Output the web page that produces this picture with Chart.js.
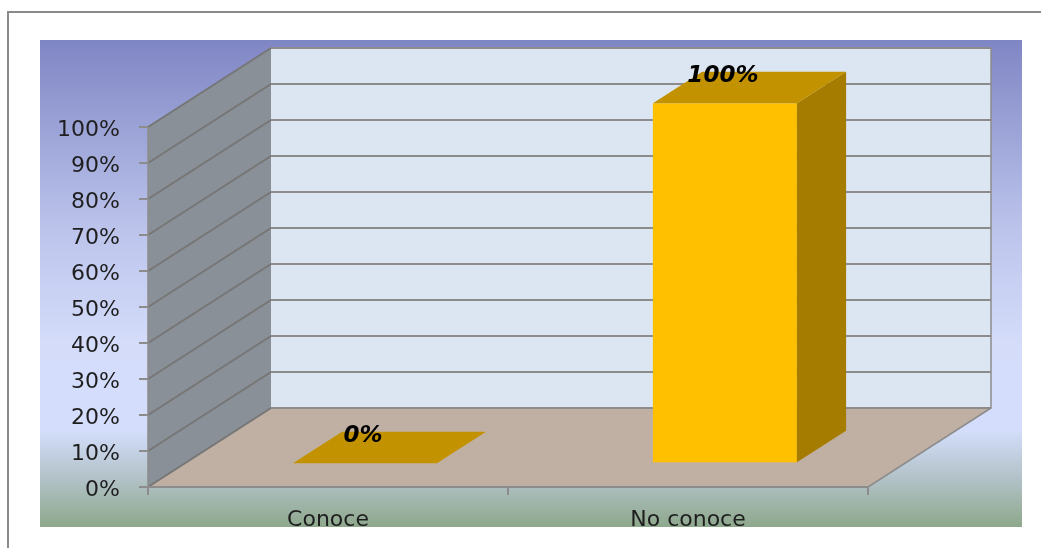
<!DOCTYPE html>
<html>
<head>
<meta charset="utf-8">
<script src="https://cdn.jsdelivr.net/npm/chart.js@4"></script>
<style>
  html, body { margin: 0; padding: 0; background: #fff; }
  canvas { display: block; }
</style>
</head>
<body>
<canvas id="chart" width="1041" height="548"></canvas>
<script>
const categories = ['Conoce', 'No conoce'];
const values = [0, 100];
const yMin = 0, yMax = 100, yStep = 10;

// 3D look: depth vector of the floor, bar sits between 30% and 70% of it
const depth = { x: 123, y: -79 };
const barFront = 0.3, barDepth = 0.4;
const grey = '#8c8c8c';
const font = { family: 'DejaVu Sans', size: 22 };

const box3d = {
  id: 'box3d',
  beforeDraw(chart) {
    const ctx = chart.ctx;
    const a = chart.chartArea;
    const y = chart.scales.y;
    ctx.save();
    ctx.fillStyle = '#fff';
    ctx.fillRect(0, 0, chart.width, chart.height);

    // outer frame
    ctx.strokeStyle = '#8a8a8a';
    ctx.lineWidth = 2;
    ctx.strokeRect(8, 12, chart.width + 20, chart.height + 20);

    // plot background gradient
    const g = ctx.createLinearGradient(0, 40, 0, 527);
    g.addColorStop(0, '#7f86c4');
    g.addColorStop(0.39, '#bcc4ec');
    g.addColorStop(0.62, '#d4dcfa');
    g.addColorStop(0.8, '#d4defc');
    g.addColorStop(0.9, '#b2c2c8');
    g.addColorStop(1, '#8ea88c');
    ctx.fillStyle = g;
    ctx.fillRect(40, 40, 982, 487);

    const top = y.getPixelForValue(yMax), bot = y.getPixelForValue(yMin);

    // back wall
    ctx.fillStyle = '#dce6f2';
    ctx.fillRect(a.left + depth.x, top + depth.y, a.right - a.left, bot - top);

    // left wall
    ctx.fillStyle = '#8a9097';
    ctx.beginPath();
    ctx.moveTo(a.left, top);
    ctx.lineTo(a.left + depth.x, top + depth.y);
    ctx.lineTo(a.left + depth.x, bot + depth.y);
    ctx.lineTo(a.left, bot);
    ctx.closePath();
    ctx.fill();

    // floor
    ctx.fillStyle = '#c0b0a3';
    ctx.beginPath();
    ctx.moveTo(a.left, bot);
    ctx.lineTo(a.right, bot);
    ctx.lineTo(a.right + depth.x, bot + depth.y);
    ctx.lineTo(a.left + depth.x, bot + depth.y);
    ctx.closePath();
    ctx.fill();

    // gridlines on walls
    ctx.lineWidth = 2;
    for (let v = yMin; v <= yMax; v += yStep) {
      const py = y.getPixelForValue(v);
      ctx.strokeStyle = '#767676';
      ctx.beginPath();
      ctx.moveTo(a.left, py);
      ctx.lineTo(a.left + depth.x, py + depth.y);
      ctx.stroke();
      ctx.strokeStyle = grey;
      ctx.beginPath();
      ctx.moveTo(a.left + depth.x, py + depth.y);
      ctx.lineTo(a.right + depth.x, py + depth.y);
      ctx.stroke();
    }
    ctx.strokeStyle = grey;
    ctx.lineWidth = 1.5;
    ctx.beginPath();
    ctx.moveTo(a.right, bot);
    ctx.lineTo(a.right + depth.x, bot + depth.y);
    ctx.lineTo(a.right + depth.x, top + depth.y);
    ctx.moveTo(a.left, top);
    ctx.lineTo(a.left, bot);
    ctx.stroke();
    ctx.restore();
  },
  afterDatasetsDraw(chart) {
    const ctx = chart.ctx;
    const meta = chart.getDatasetMeta(0);
    const fx = barFront * depth.x, fy = barFront * depth.y;
    const dx = barDepth * depth.x, dy = barDepth * depth.y;
    ctx.save();
    meta.data.forEach((bar, i) => {
      const L = bar.x - bar.width / 2 + fx, R = bar.x + bar.width / 2 + fx;
      const T = bar.y + fy, B = bar.base + fy;
      // front
      ctx.fillStyle = '#ffc000';
      ctx.fillRect(L, T, R - L, B - T);
      // side
      ctx.fillStyle = '#a67c00';
      ctx.beginPath();
      ctx.moveTo(R, T); ctx.lineTo(R + dx, T + dy); ctx.lineTo(R + dx, B + dy); ctx.lineTo(R, B);
      ctx.closePath(); ctx.fill();
      // top
      ctx.fillStyle = '#c39200';
      ctx.beginPath();
      ctx.moveTo(L, T); ctx.lineTo(R, T); ctx.lineTo(R + dx, T + dy); ctx.lineTo(L + dx, T + dy);
      ctx.closePath(); ctx.fill();
      // value label
      ctx.fillStyle = '#000';
      ctx.font = 'italic bold 23px "DejaVu Sans"';
      ctx.textAlign = 'center';
      ctx.textBaseline = 'middle';
      ctx.fillText(values[i] + '%', bar.x + fx - 2, T - 27);
    });
    ctx.restore();
  }
};

new Chart(document.getElementById('chart'), {
  type: 'bar',
  data: {
    labels: categories,
    datasets: [{
      data: values,
      backgroundColor: 'rgba(0,0,0,0)',
      barPercentage: 0.4,
      categoryPercentage: 1
    }]
  },
  options: {
    responsive: false,
    animation: false,
    layout: { padding: { top: 127, right: 173, left: 0, bottom: 0 } },
    plugins: { legend: { display: false }, tooltip: { enabled: false } },
    scales: {
      x: {
        grid: { offset: true, drawOnChartArea: false, tickLength: 8, color: grey, lineWidth: 2 },
        border: { color: grey, width: 2 },
        ticks: { font: font, color: '#1e1e1e', padding: 12 },
        afterFit: s => { s.height = 61; }
      },
      y: {
        min: yMin, max: yMax,
        grid: { drawOnChartArea: false, tickLength: 9, color: grey, lineWidth: 2 },
        border: { display: false },
        ticks: { stepSize: yStep, font: font, color: '#1e1e1e', padding: 19, labelOffset: 3, callback: v => v + '%' },
        afterFit: s => { s.width = 148; }
      }
    }
  },
  plugins: [box3d]
});
</script>
</body>
</html>
